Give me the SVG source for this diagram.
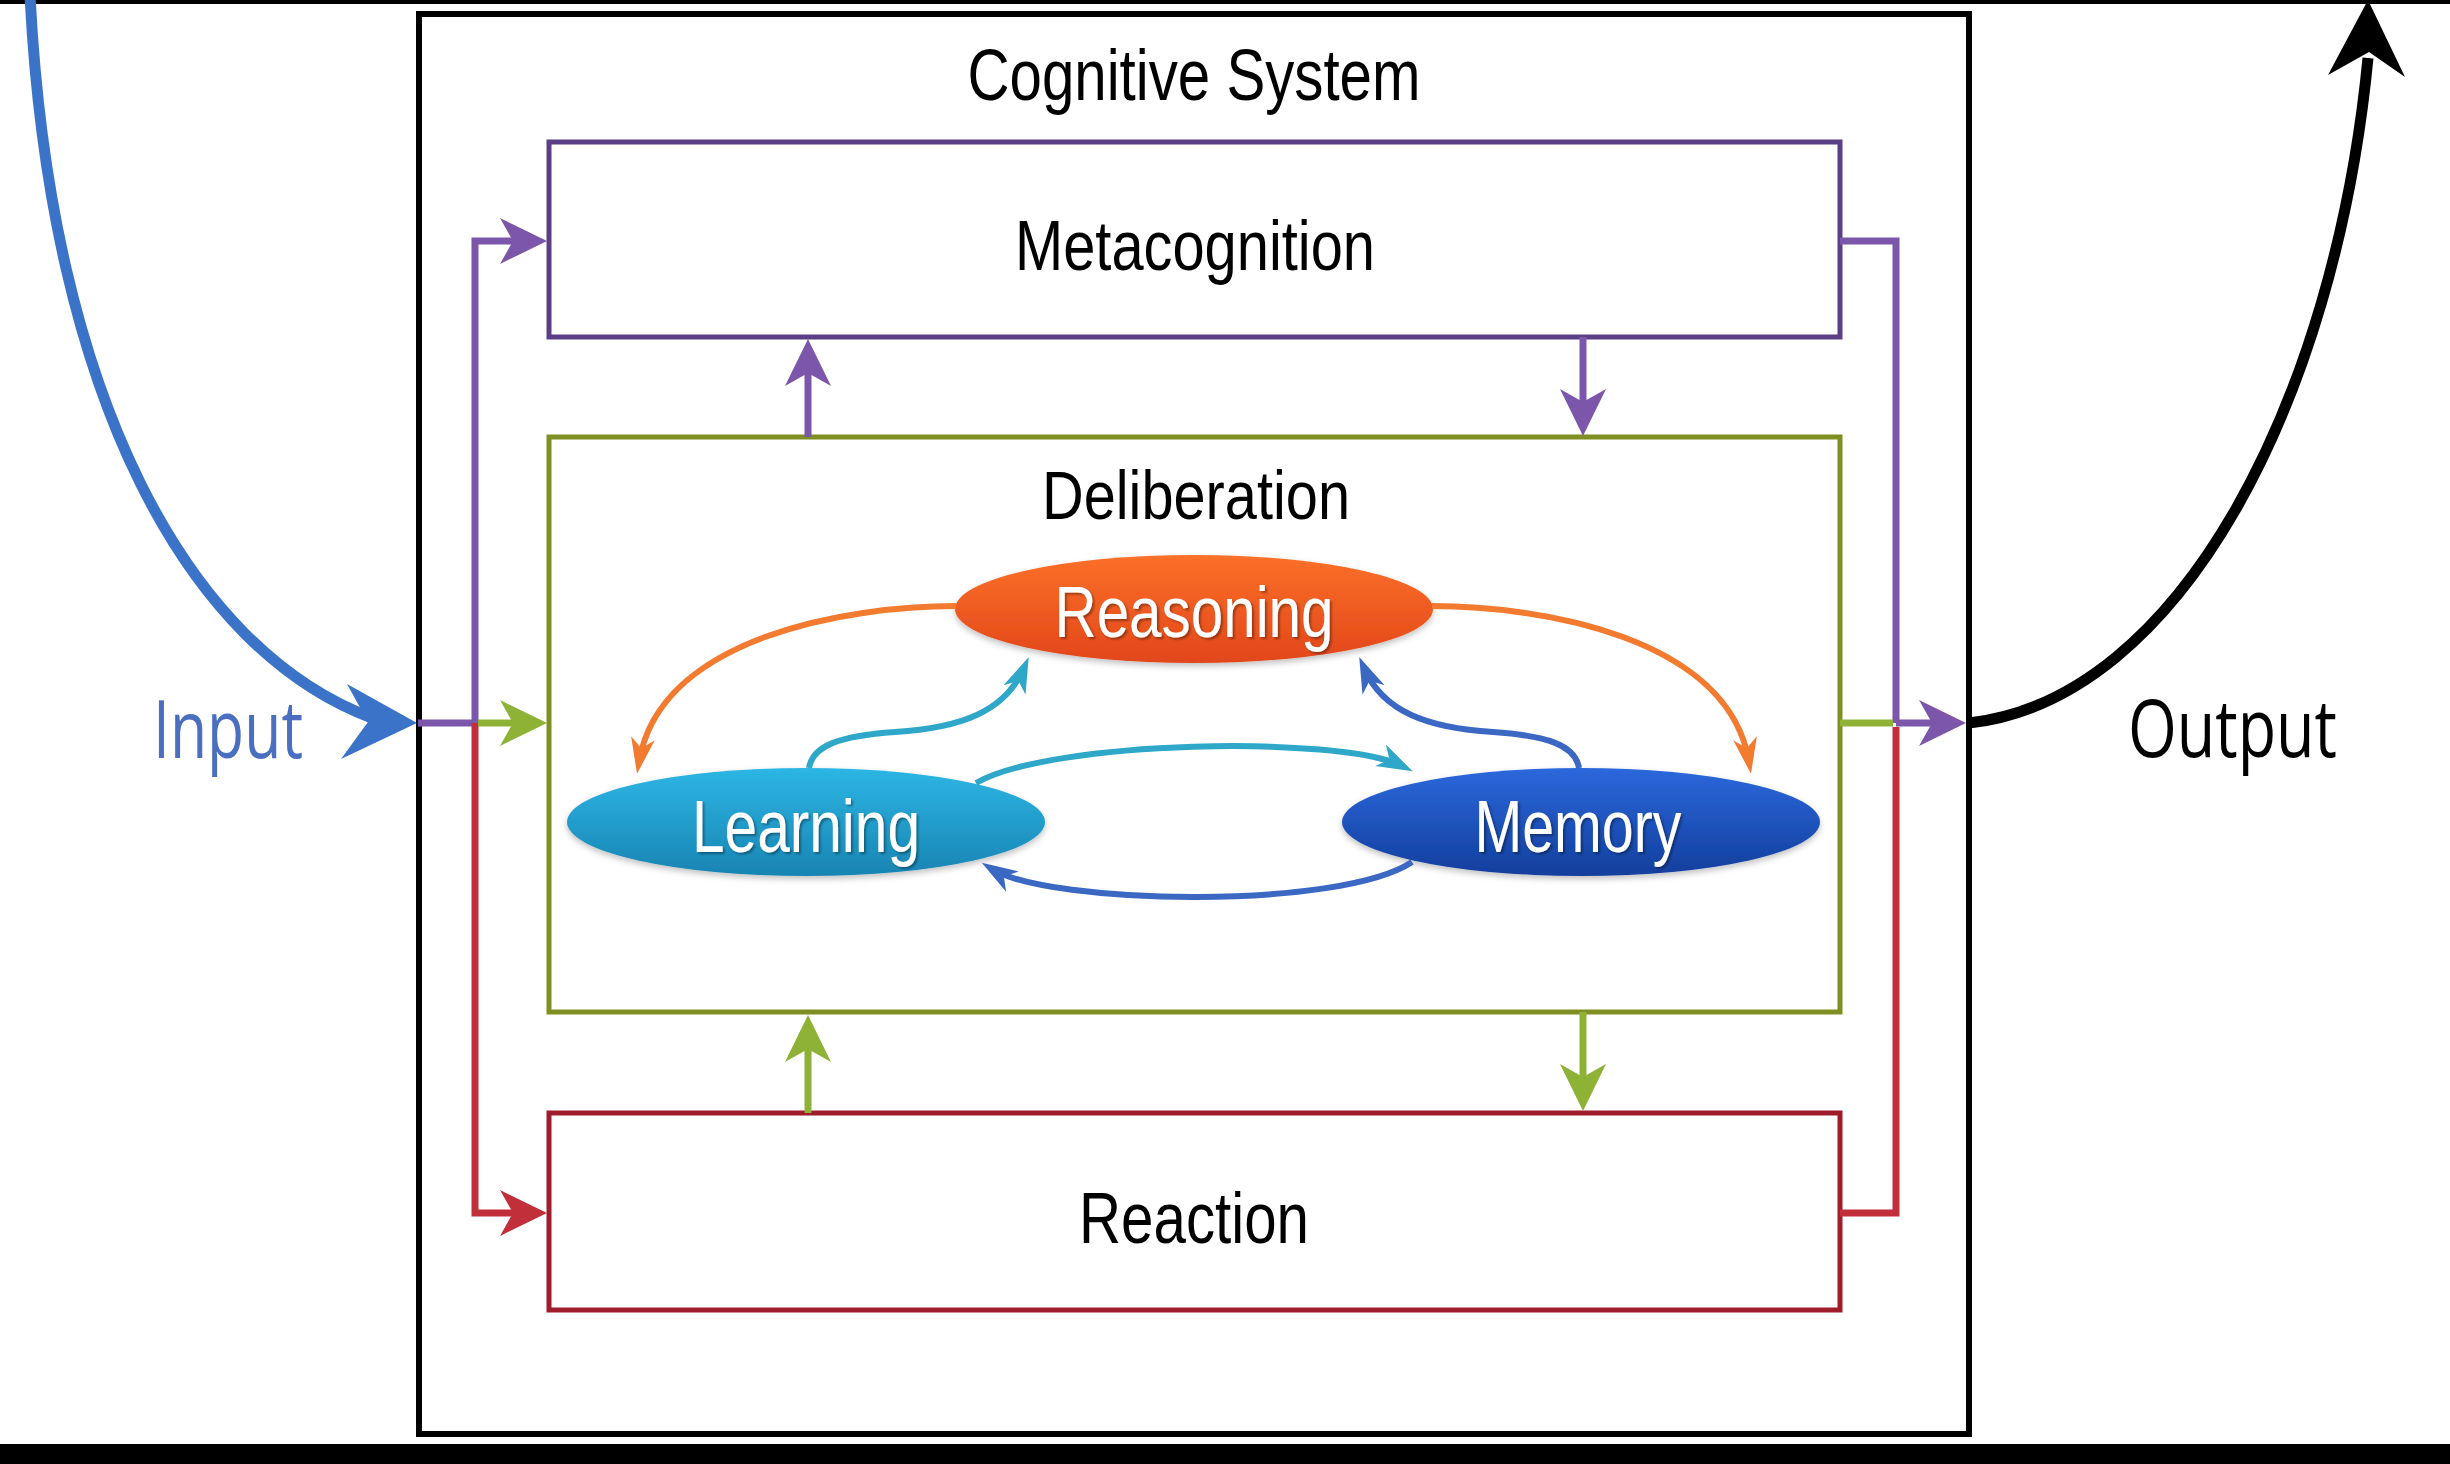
<svg xmlns="http://www.w3.org/2000/svg" width="2450" height="1464" viewBox="0 0 2450 1464">
<style>
.lbl{font-family:"Liberation Sans",Arial,sans-serif;fill:#000;text-anchor:middle}
.io{font-family:"Open Sans","Liberation Sans",sans-serif;font-size:81px}
.box{fill:none;stroke-width:5}
.pl{fill:none;stroke:#7c56aa;stroke-width:7}
.gl{fill:none;stroke:#8db236;stroke-width:7}
.rl{fill:none;stroke:#c12f3b;stroke-width:7}
.ia{fill:none;stroke-width:6}
.et{font-family:"Liberation Sans",Arial,sans-serif;fill:#fff;text-anchor:middle}
</style>
<defs>
<marker id="mP" viewBox="-48 -25 50 50" markerWidth="50" markerHeight="50" refX="-20" refY="0" orient="auto" markerUnits="userSpaceOnUse"><path d="M0,0 L-47,-23 L-34,0 L-47,23 Z" fill="#7c56aa"/></marker>
<marker id="mG" viewBox="-48 -25 50 50" markerWidth="50" markerHeight="50" refX="-20" refY="0" orient="auto" markerUnits="userSpaceOnUse"><path d="M0,0 L-47,-23 L-34,0 L-47,23 Z" fill="#8db236"/></marker>
<marker id="mR" viewBox="-48 -25 50 50" markerWidth="50" markerHeight="50" refX="-20" refY="0" orient="auto" markerUnits="userSpaceOnUse"><path d="M0,0 L-47,-23 L-34,0 L-47,23 Z" fill="#c12f3b"/></marker>
<marker id="mO" viewBox="-38 -14 40 28" markerWidth="40" markerHeight="28" refX="-12" refY="0" orient="auto" markerUnits="userSpaceOnUse"><path d="M0,0 L-36,-12 L-26,0 L-36,12 Z" fill="#f27b2f"/></marker>
<marker id="mC" viewBox="-38 -14 40 28" markerWidth="40" markerHeight="28" refX="-12" refY="0" orient="auto" markerUnits="userSpaceOnUse"><path d="M0,0 L-36,-12 L-26,0 L-36,12 Z" fill="#2fa7c9"/></marker>
<marker id="mB" viewBox="-38 -14 40 28" markerWidth="40" markerHeight="28" refX="-12" refY="0" orient="auto" markerUnits="userSpaceOnUse"><path d="M0,0 L-36,-12 L-26,0 L-36,12 Z" fill="#3a68c2"/></marker>
<linearGradient id="gRe" x1="0" y1="0" x2="0" y2="1"><stop offset="0" stop-color="#fb7029"/><stop offset="1" stop-color="#e2461a"/></linearGradient>
<linearGradient id="gLe" x1="0" y1="0" x2="0" y2="1"><stop offset="0" stop-color="#2db6e4"/><stop offset="1" stop-color="#1884b3"/></linearGradient>
<linearGradient id="gMe" x1="0" y1="0" x2="0" y2="1"><stop offset="0" stop-color="#2c68dc"/><stop offset="1" stop-color="#123e9c"/></linearGradient>
<filter id="soft" x="-10%" y="-20%" width="120%" height="140%"><feDropShadow dx="0" dy="3" stdDeviation="3" flood-color="#000" flood-opacity="0.25"/></filter>
<filter id="tsh" x="-10%" y="-20%" width="120%" height="140%"><feDropShadow dx="2" dy="2" stdDeviation="1" flood-color="#000" flood-opacity="0.35"/></filter>
</defs>
<rect x="0" y="0" width="2450" height="1464" fill="#fff"/>
<rect x="0" y="0" width="2450" height="4" fill="#000"/>
<rect x="0" y="1444" width="2450" height="20" fill="#000"/>

<g id="cognitive-system">
<rect x="419" y="14" width="1550" height="1420" fill="none" stroke="#000" stroke-width="6"/>
<text class="lbl" x="1194" y="100" font-size="72" textLength="453" lengthAdjust="spacingAndGlyphs">Cognitive System</text>
</g>

<g id="metacognition">
<rect class="box" x="549" y="142" width="1291" height="195" stroke="#5b3f86"/>
<text class="lbl" x="1195" y="270" font-size="70" textLength="360" lengthAdjust="spacingAndGlyphs">Metacognition</text>
</g>

<g id="deliberation">
<rect class="box" x="549" y="437" width="1291" height="575" stroke="#7f8f22"/>
<text class="lbl" x="1196" y="519" font-size="68" textLength="308" lengthAdjust="spacingAndGlyphs">Deliberation</text>
</g>

<g id="reaction">
<rect class="box" x="549" y="1113" width="1291" height="197" stroke="#9e1c2c"/>
<text class="lbl" x="1194" y="1243" font-size="72" textLength="230" lengthAdjust="spacingAndGlyphs">Reaction</text>
</g>

<g id="reasoning">
<ellipse cx="1194" cy="609" rx="239" ry="54" fill="url(#gRe)" filter="url(#soft)"/>
<text class="et" x="1194" y="637" font-size="72" textLength="279" lengthAdjust="spacingAndGlyphs" filter="url(#tsh)">Reasoning</text>
</g>

<g id="learning">
<ellipse cx="806" cy="822" rx="239" ry="54" fill="url(#gLe)" filter="url(#soft)"/>
<text class="et" x="806" y="852" font-size="74" textLength="228" lengthAdjust="spacingAndGlyphs" filter="url(#tsh)">Learning</text>
</g>

<g id="memory">
<ellipse cx="1581" cy="822" rx="239" ry="54" fill="url(#gMe)" filter="url(#soft)"/>
<text class="et" x="1578" y="852" font-size="74" textLength="207" lengthAdjust="spacingAndGlyphs" filter="url(#tsh)">Memory</text>
</g>

<g id="input">
<text class="io" x="153" y="758" fill="#4a6fc0" textLength="150" lengthAdjust="spacingAndGlyphs">Input</text>
</g>

<g id="output">
<text class="io" x="2128" y="757" fill="#000" textLength="209" lengthAdjust="spacingAndGlyphs">Output</text>
</g>

<g id="connectors">
<path d="M30,-5 C50,400 190,650 372,718" fill="none" stroke="#3b73c9" stroke-width="11"/>
<polygon points="417,723 347,684 368,722 341,759" fill="#3b73c9"/>
<path d="M1969,723 C2180,700 2335,400 2368,58" fill="none" stroke="#000" stroke-width="11"/>
<polygon points="2368,0 2405,77 2369,52 2328,75" fill="#000"/>

<path class="pl" d="M418,723 H475"/>
<path class="pl" d="M475,723 V241 H527" marker-end="url(#mP)"/>
<path class="pl" d="M808,437 V359" marker-end="url(#mP)"/>
<path class="pl" d="M1583,337 V416" marker-end="url(#mP)"/>
<path class="pl" d="M1840,241 H1896 V723"/>
<path class="pl" d="M1896,723 H1946" marker-end="url(#mP)"/>

<path class="rl" d="M475,723 V1213 H527" marker-end="url(#mR)"/>
<path class="rl" d="M1840,1213 H1896 V727"/>

<path class="gl" d="M478,723 H527" marker-end="url(#mG)"/>
<path class="gl" d="M1840,723 H1893"/>
<path class="gl" d="M808,1113 V1035" marker-end="url(#mG)"/>
<path class="gl" d="M1583,1012 V1091" marker-end="url(#mG)"/>

<path class="ia" stroke="#f27b2f" d="M956,606 C850,606 660,636 639,762" marker-end="url(#mO)"/>
<path class="ia" stroke="#f27b2f" d="M1432,606 C1538,606 1728,636 1749,762" marker-end="url(#mO)"/>
<path class="ia" stroke="#2fa7c9" d="M809,768 C813,745 840,736 895,732 C960,728 1005,712 1024,668" marker-end="url(#mC)"/>
<path class="ia" stroke="#3a68c2" d="M1579,768 C1575,745 1548,736 1493,732 C1428,728 1383,712 1364,668" marker-end="url(#mB)"/>
<path class="ia" stroke="#2fa7c9" d="M976,783 C1050,740 1340,735 1402,766" marker-end="url(#mC)"/>
<path class="ia" stroke="#3a68c2" d="M1412,862 C1340,910 1050,905 992,869" marker-end="url(#mB)"/>
</g>
</svg>
